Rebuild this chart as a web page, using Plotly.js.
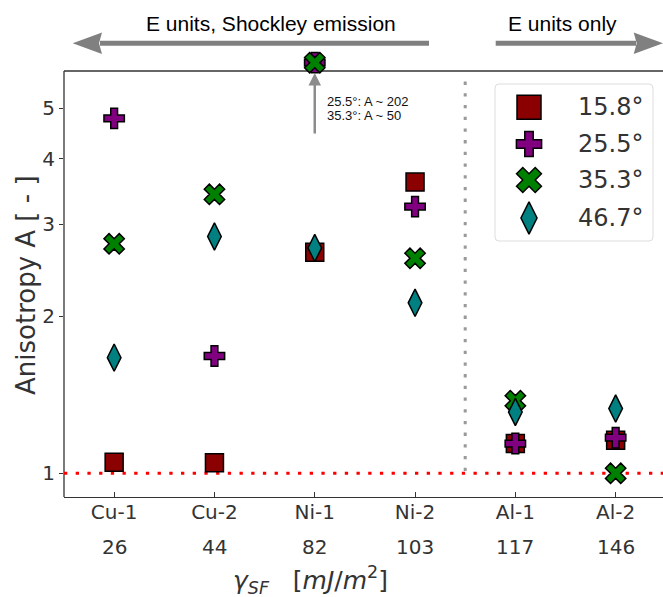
<!DOCTYPE html>
<html><head><meta charset="utf-8">
<script src="https://cdn.plot.ly/plotly-3.0.1.min.js"></script>
<style>html,body{margin:0;padding:0;overflow:hidden;background:#fff}</style>
</head><body>
<div id="chart" style="width:663px;height:597px"></div>
<script>
// ---- data ----
const categories = ['Cu-1', 'Cu-2', 'Ni-1', 'Ni-2', 'Al-1', 'Al-2'];
const gammaSF = [26, 44, 82, 103, 117, 146];
const seriesLabels = ['15.8°', '25.5°', '35.3°', '46.7°'];
const a158 = [1.05, 1.048, 2.65, 3.61, 1.14, 1.157];
// Ni-1 values for 25.5° (~202) and 35.3° (~50) are drawn just above the top edge of the axes
const a255 = [4.78, 1.677, 6.11, 3.24, 1.14, 1.17];
const a353 = [2.75, 3.42, 6.11, 2.58, 1.377, 1.00];
const a467 = [1.665, 2.84, 2.70, 2.12, 1.31, 1.33];
const offChartNotes = ['25.5°: A ~ 202', '35.3°: A ~ 50'];
const topLabels = ['E units, Shockley emission', 'E units only'];

// ---- layout geometry ----
const W = 663, H = 597, L = 64, T0 = 30, FT = 71, R = 663, B = 497;
const px = x => (x - L) / (R - L);
const py = y => (B - y) / (B - T0);
const pxPerDecade = 522.4, yOnePx = 473.3;
const xRange = [-0.5, -0.5 + (R - L) / 100.3];
const yRange = [(yOnePx - B) / pxPerDecade, (yOnePx - T0) / pxPerDecade];
const yPaper = v => (Math.log10(v) - yRange[0]) / (yRange[1] - yRange[0]);

const styles = [
  {symbol: 'square', color: '#8b0000', size: 18, lsize: 24},
  {symbol: 'cross', color: '#800080', size: 17, lsize: 21},
  {symbol: 'x', color: '#008000', size: 18, lsize: 22},
  {symbol: 'diamond-tall', color: '#008080', size: 19.5, lsize: 23}
];
const values = [a158, a255, a353, a467];

const traces = [];
values.forEach((vals, k) => {
  traces.push({
    type: 'scatter', mode: 'markers', x: categories, y: vals,
    name: seriesLabels[k], showlegend: false, cliponaxis: false,
    marker: {symbol: styles[k].symbol, color: styles[k].color, size: styles[k].size,
             line: {color: '#000', width: 1.5}},
    hoverinfo: 'x+y+name'
  });
});
// custom legend (markers on a hidden helper axis)
const legRowY = [23.3, 60, 96, 134];
values.forEach((vals, k) => {
  traces.push({
    type: 'scatter', mode: 'markers', x: [34], y: [legRowY[k]], xaxis: 'x2', yaxis: 'y2',
    showlegend: false, cliponaxis: false, hoverinfo: 'skip',
    marker: {symbol: styles[k].symbol, color: styles[k].color, size: styles[k].lsize,
             line: {color: '#000', width: 1.5}}
  });
});

const dejavu = 'DejaVu Sans, sans-serif';
const arial = 'Liberation Sans, Arial, sans-serif';
const annotations = [];
gammaSF.forEach((g, i) => annotations.push({
  xref: 'x', yref: 'paper', x: i, y: py(547), text: String(g), showarrow: false,
  xanchor: 'center', yanchor: 'middle', font: {family: dejavu, size: 20, color: '#333'}
}));
annotations.push({
  xref: 'paper', yref: 'paper', x: px(310), y: py(580), showarrow: false,
  xanchor: 'center', yanchor: 'middle',
  text: '<i>γ</i><sub><i>SF</i></sub>&nbsp;&nbsp;&nbsp;[<i>mJ</i>/<i>m</i><sup>2</sup>]',
  font: {family: dejavu, size: 25, color: '#333'}
});
annotations.push({
  xref: 'paper', yref: 'paper', x: px(26), y: py(285), showarrow: false, textangle: -90,
  xanchor: 'center', yanchor: 'middle', text: 'Anisotropy A [ - ]',
  font: {family: dejavu, size: 26, color: '#333'}
});
annotations.push({
  xref: 'paper', yref: 'paper', x: px(270.5), y: py(24), showarrow: false,
  xanchor: 'center', yanchor: 'middle', text: topLabels[0],
  font: {family: arial, size: 21, color: '#000'}
});
annotations.push({
  xref: 'paper', yref: 'paper', x: px(562), y: py(24), showarrow: false,
  xanchor: 'center', yanchor: 'middle', text: topLabels[1],
  font: {family: arial, size: 21, color: '#000'}
});
// arrow pointing at the off-chart Ni-1 values
annotations.push({
  xref: 'x', yref: 'paper', x: 2, y: py(73), ax: 0, ay: 62, text: '', showarrow: true,
  arrowhead: 2, arrowsize: 1, arrowwidth: 2.5, arrowcolor: '#8c8c8c', standoff: 0
});
offChartNotes.forEach((t, i) => annotations.push({
  xref: 'paper', yref: 'paper', x: px(325), y: py(101.7 + 14.3 * i), showarrow: false,
  xanchor: 'left', yanchor: 'middle', text: t, font: {family: arial, size: 13, color: '#111'}
}));
seriesLabels.forEach((t, k) => annotations.push({
  xref: 'x2', yref: 'y2', x: 81, y: legRowY[k], showarrow: false,
  xanchor: 'left', yanchor: 'middle', text: t, font: {family: dejavu, size: 24, color: '#333'}
}));

const gray = '#808080';
const rx = 4 / (R - L), ry = 4 / (B - T0);
const lx0 = px(495), lx1 = px(653), ly0 = py(241), ly1 = py(84);
const shapes = [
  // legend frame
  {type: 'path', xref: 'paper', yref: 'paper', layer: 'below',
   path: `M${lx0 + rx},${ly0} L${lx1 - rx},${ly0} Q${lx1},${ly0} ${lx1},${ly0 + ry} L${lx1},${ly1 - ry} Q${lx1},${ly1} ${lx1 - rx},${ly1} L${lx0 + rx},${ly1} Q${lx0},${ly1} ${lx0},${ly1 - ry} L${lx0},${ly0 + ry} Q${lx0},${ly0} ${lx0 + rx},${ly0} Z`,
   fillcolor: 'rgba(255,255,255,0.8)', line: {color: '#dddddd', width: 1}},
  // axes frame: left and top edges
  {type: 'line', xref: 'paper', yref: 'paper', x0: 0, x1: 0, y0: 0, y1: py(FT),
   line: {color: '#333', width: 1.3}, layer: 'below'},
  {type: 'line', xref: 'paper', yref: 'paper', x0: 0, x1: 1, y0: py(FT), y1: py(FT),
   line: {color: '#333', width: 1.3}, layer: 'below'},
  // y = 1 reference line
  {type: 'line', xref: 'paper', yref: 'paper', x0: 0, x1: 1, y0: yPaper(1), y1: yPaper(1),
   layer: 'below', line: {color: '#ff0000', width: 3, dash: '3.3px,8.4px'}},
  // separator between Ni and Al
  {type: 'line', xref: 'x', yref: 'paper', x0: 3.5, x1: 3.5, y0: py(471), y1: py(76),
   layer: 'below', line: {color: '#999999', width: 3, dash: '3.3px,8.4px'}},
  // top arrows
  {type: 'line', xref: 'paper', yref: 'paper', x0: px(100), x1: px(429), y0: py(43.3), y1: py(43.3),
   line: {color: gray, width: 5}},
  {type: 'path', xref: 'paper', yref: 'paper',
   path: `M${px(72.7)},${py(43.3)} L${px(102)},${py(32.5)} L${px(99)},${py(43.3)} L${px(102)},${py(54.1)} Z`,
   fillcolor: gray, line: {width: 0}},
  {type: 'line', xref: 'paper', yref: 'paper', x0: px(495.7), x1: px(636), y0: py(43.3), y1: py(43.3),
   line: {color: gray, width: 5}},
  {type: 'path', xref: 'paper', yref: 'paper',
   path: `M${px(663)},${py(43.3)} L${px(633.7)},${py(32.5)} L${px(636.7)},${py(43.3)} L${px(633.7)},${py(54.1)} Z`,
   fillcolor: gray, line: {width: 0}}
];

const layout = {
  width: W, height: H,
  margin: {l: L, r: W - R, t: T0, b: H - B, pad: 0},
  paper_bgcolor: '#fff', plot_bgcolor: 'rgba(0,0,0,0)',
  showlegend: false,
  xaxis: {
    type: 'category', range: xRange, showgrid: false, zeroline: false,
    showline: true, mirror: false, linecolor: '#333', linewidth: 1.3,
    ticks: 'inside', ticklen: 5, tickcolor: '#333', tickwidth: 1, ticklabelstandoff: -3,
    tickfont: {family: dejavu, size: 20, color: '#333'}, fixedrange: true
  },
  yaxis: {
    type: 'log', range: yRange, showgrid: false, zeroline: false,
    showline: false,
    ticks: 'outside', ticklen: 4, tickcolor: '#333', tickwidth: 1,
    tickvals: [1, 2, 3, 4, 5], ticktext: ['1', '2', '3', '4', '5'],
    tickfont: {family: dejavu, size: 20, color: '#333'}, fixedrange: true
  },
  xaxis2: {domain: [lx0, lx1], range: [0, 158], anchor: 'y2', visible: false, fixedrange: true},
  yaxis2: {domain: [ly0, ly1], range: [157, 0], anchor: 'x2', visible: false, fixedrange: true},
  annotations: annotations,
  shapes: shapes
};

Plotly.newPlot('chart', traces, layout, {displayModeBar: false, staticPlot: true});
</script>
</body></html>
